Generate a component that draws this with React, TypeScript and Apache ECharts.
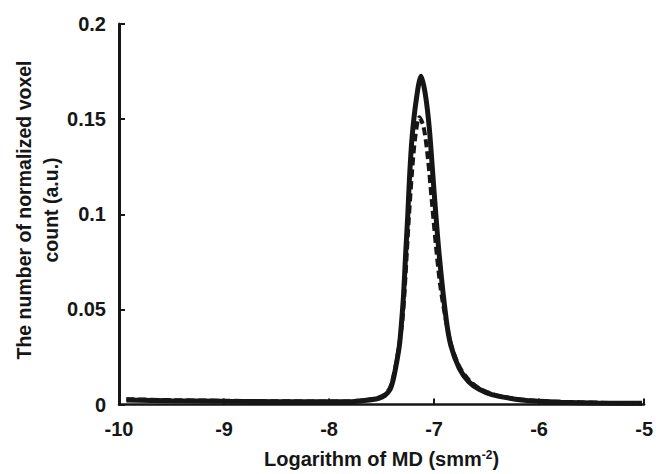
import React, { useEffect, useRef } from "react";
import * as echarts from "echarts";

const xTicks = [-10, -9, -8, -7, -6, -5];
const yTicks = [0, 0.05, 0.1, 0.15, 0.2];

const solidMd = [-9.93, -9.5, -9, -8.5, -8, -7.8, -7.7, -7.6, -7.52, -7.47, -7.42, -7.39, -7.36, -7.33, -7.31, -7.29, -7.27, -7.25, -7.235, -7.21, -7.17, -7.124, -7.083, -7.045, -7.0, -6.95, -6.885, -6.84, -6.76, -6.67, -6.57, -6.45, -6.3, -6.17, -6.0, -5.8, -5.44, -5.02];
const solidCount = [0.0024, 0.002, 0.0017, 0.0015, 0.0014, 0.0015, 0.0019, 0.0025, 0.0034, 0.0047, 0.0078, 0.0128, 0.021, 0.031, 0.043, 0.058, 0.08, 0.1, 0.118, 0.14, 0.16, 0.1725, 0.163, 0.145, 0.112, 0.078, 0.045, 0.031, 0.019, 0.012, 0.008, 0.0052, 0.0035, 0.0024, 0.0017, 0.0012, 0.0008, 0.0006];

const dashedMd = [-9.93, -9.5, -9, -8.5, -8, -7.8, -7.7, -7.6, -7.52, -7.47, -7.42, -7.39, -7.36, -7.33, -7.3, -7.28, -7.26, -7.24, -7.21, -7.18, -7.14, -7.1, -7.06, -7.02, -6.98, -6.94, -6.89, -6.84, -6.76, -6.67, -6.57, -6.45, -6.3, -6.17, -6.0, -5.8, -5.44, -5.02];
const dashedCount = [0.0028, 0.0023, 0.002, 0.0017, 0.0016, 0.0017, 0.0021, 0.0028, 0.0038, 0.0052, 0.0088, 0.0142, 0.022, 0.032, 0.045, 0.06, 0.079, 0.098, 0.122, 0.14, 0.151, 0.146, 0.13, 0.106, 0.082, 0.062, 0.045, 0.032, 0.02, 0.013, 0.0085, 0.0056, 0.0037, 0.0026, 0.0018, 0.0014, 0.0009, 0.0006];

const xTitle = "Logarithm of MD (smm{sup|-2})";
const yTitle = "The number of normalized voxel\ncount (a.u.)";

export default function App() {
  const ref = useRef<HTMLDivElement>(null);
  useEffect(() => {
    document.body.style.margin = "0";
    if (!ref.current) return;
    const chart = echarts.init(ref.current, null, { renderer: "svg" });
    const font = "'Liberation Sans', Arial, sans-serif";
    const ink = "#161616";
    chart.setOption({
      animation: false,
      backgroundColor: "#ffffff",
      grid: { left: 119, right: 11, top: 24, bottom: 62, containLabel: false },
      graphic: [
        {
          type: "text",
          x: 37,
          y: 210,
          rotation: Math.PI / 2,
          style: {
            text: yTitle,
            fill: ink,
            font: `bold 19.5px ${font}`,
            align: "center",
            verticalAlign: "middle",
            lineHeight: 27,
          },
        },
      ],
      xAxis: {
        type: "value",
        min: xTicks[0],
        max: xTicks[xTicks.length - 1],
        interval: 1,
        splitLine: { show: false },
        axisLine: { lineStyle: { color: ink, width: 2.5 } },
        axisTick: { inside: true, length: 6, lineStyle: { color: ink, width: 2 } },
        axisLabel: { margin: 14, color: ink, fontFamily: font, fontWeight: "bold", fontSize: 20 },
        name: xTitle,
        nameLocation: "middle",
        nameGap: 44,
        nameTextStyle: {
          color: ink,
          fontFamily: font,
          fontWeight: "bold",
          fontSize: 20,
          rich: { sup: { fontSize: 12, fontWeight: "bold", fontFamily: font, color: ink, verticalAlign: "top", padding: [0, 0, 9, 0] } },
        },
      },
      yAxis: {
        type: "value",
        min: yTicks[0],
        max: yTicks[yTicks.length - 1],
        interval: 0.05,
        splitLine: { show: false },
        axisLine: { show: true, lineStyle: { color: ink, width: 3 } },
        axisTick: { show: true, inside: true, length: 6, lineStyle: { color: ink, width: 2 } },
        axisLabel: { margin: 13, color: ink, fontFamily: font, fontWeight: "bold", fontSize: 20 },
      },
      series: [
        {
          type: "line",
          data: solidMd.map((x, i) => [x, solidCount[i]]),
          smooth: 0.3,
          showSymbol: false,
          lineStyle: { color: ink, width: 5 },
          z: 2,
        },
        {
          type: "line",
          data: dashedMd.map((x, i) => [x, dashedCount[i]]),
          smooth: 0.3,
          showSymbol: false,
          lineStyle: { color: ink, width: 4, type: [8, 4] },
          z: 3,
        },
      ],
    });
    return () => chart.dispose();
  }, []);
  return <div ref={ref} style={{ width: 656, height: 474 }} />;
}
